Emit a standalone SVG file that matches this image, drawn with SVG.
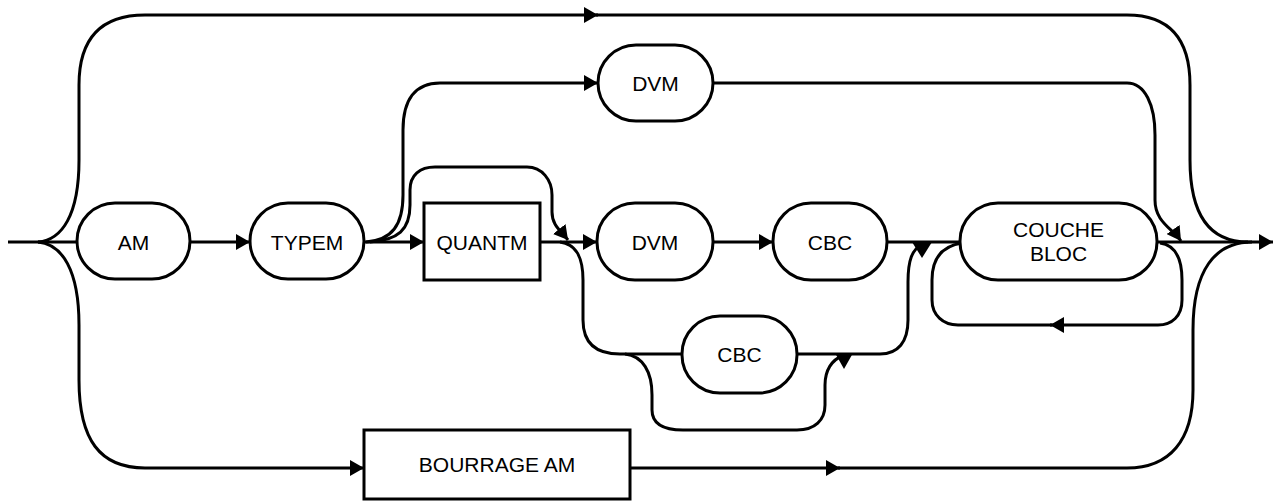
<svg xmlns="http://www.w3.org/2000/svg" width="1286" height="502" viewBox="0 0 1286 502">
<style>
.n{fill:#fff;stroke:#000;stroke-width:3}
.c{fill:none;stroke:#000;stroke-width:3}
.t{font-family:"Liberation Sans",Arial,sans-serif;font-size:21px;fill:#000;text-anchor:middle}
.h{fill:#000;stroke:none}
</style>
<defs>
<marker id="ah" viewBox="0 0 14 16" refX="14" refY="8" markerWidth="14" markerHeight="16" markerUnits="userSpaceOnUse" orient="auto"><path d="M0,0 L14,8 L0,16 z" fill="#000"/></marker>
</defs>
<g id="connectors">
<!-- main line -->
<path class="c" d="M8,242 H77"/>
<path class="c" d="M190,242 H250" marker-end="url(#ah)"/>
<path class="c" d="M364,242 H424" marker-end="url(#ah)"/>
<path class="c" d="M540,242 H597" marker-end="url(#ah)"/>
<path class="c" d="M713,242 H773" marker-end="url(#ah)"/>
<path class="c" d="M887,242 H960"/>
<path class="c" d="M1157,242 H1273" marker-end="url(#ah)"/>
<!-- top bypass -->
<path class="c" d="M38,242 C62,240 79,215 79,160 V85 C79,40 100,15 145,15 H598" marker-end="url(#ah)"/>
<path class="c" d="M596,15 H1127 C1170,15 1190,40 1190,85 V160 C1190,215 1210,242 1248,242"/>
<!-- bottom bypass via BOURRAGE AM -->
<path class="c" d="M38,242 C62,244 79,270 79,325 V380 C79,440 100,468 145,468 H364" marker-end="url(#ah)"/>
<path class="c" d="M630,468 H840" marker-end="url(#ah)"/>
<path class="c" d="M838,468 H1127 C1170,468 1193,440 1193,390 V330 C1193,270 1215,242 1252,242"/>
<!-- upper DVM branch -->
<path class="c" d="M366,242 C392,240 403,225 403,195 V130 C403,100 415,83 440,83 H598" marker-end="url(#ah)"/>
<path class="c" d="M713,83 H1127 C1145,83 1155,105 1155,135 V200 C1155,222 1172,228 1181,241" marker-end="url(#ah)"/>
<!-- skip QUANTM -->
<path class="c" d="M370,242 C398,240 410,230 410,205 V190 C410,175 420,167 435,167 H527 C542,167 552,180 552,195 V212 C552,225 560,230 568,240" marker-end="url(#ah)"/>
<!-- lower CBC branch -->
<path class="c" d="M560,242 C575,244 583,255 583,280 V320 C583,342 595,354 620,354 H682"/>
<path class="c" d="M797,354 H880 C898,354 908,342 908,320 V282 C908,260 912,250 922,244"/>
<polygon class="h" points="912,242 932,242 922,258"/>
<!-- bypass under lower CBC -->
<path class="c" d="M625,354 C643,356 652,372 652,395 V410 C652,424 663,430 683,430 H797 C815,430 825,420 825,405 V385 C825,370 832,360 842,356"/>
<polygon class="h" points="835,353 853,353 844,369"/>
<!-- COUCHE BLOC repeat loop -->
<path class="c" d="M1160,243 C1175,245 1182,258 1182,280 V300 C1182,316 1172,325 1158,325 H1050" marker-end="url(#ah)"/>
<path class="c" d="M1052,325 H958 C943,325 932,315 932,300 V280 C932,258 942,246 962,243"/>
</g>
<g id="node-am"><rect class="n" x="77" y="203" width="113" height="76" rx="38" ry="38"/><text class="t" x="133.5" y="249.5">AM</text></g>
<g id="node-typem"><rect class="n" x="250" y="203" width="114" height="76" rx="38" ry="38"/><text class="t" x="307" y="249.5">TYPEM</text></g>
<g id="node-quantm"><rect class="n" x="424" y="203" width="116" height="77"/><text class="t" x="482" y="249.5">QUANTM</text></g>
<g id="node-dvm-top"><rect class="n" x="598" y="45" width="115" height="76" rx="38" ry="38"/><text class="t" x="655.5" y="90.5">DVM</text></g>
<g id="node-dvm"><rect class="n" x="597" y="203" width="116" height="77" rx="38" ry="38"/><text class="t" x="655" y="249.5">DVM</text></g>
<g id="node-cbc"><rect class="n" x="773" y="203" width="114" height="77" rx="38" ry="38"/><text class="t" x="830" y="249.5">CBC</text></g>
<g id="node-cbc-bottom"><rect class="n" x="682" y="316" width="115" height="77" rx="38" ry="38"/><text class="t" x="739.5" y="362">CBC</text></g>
<g id="node-couche-bloc"><rect class="n" x="960" y="203" width="197" height="77" rx="38" ry="38"/><text class="t" x="1058.5" y="237">COUCHE</text><text class="t" x="1058.5" y="261">BLOC</text></g>
<g id="node-bourrage"><rect class="n" x="364" y="430" width="266" height="69"/><text class="t" x="497" y="472">BOURRAGE AM</text></g>
</svg>
